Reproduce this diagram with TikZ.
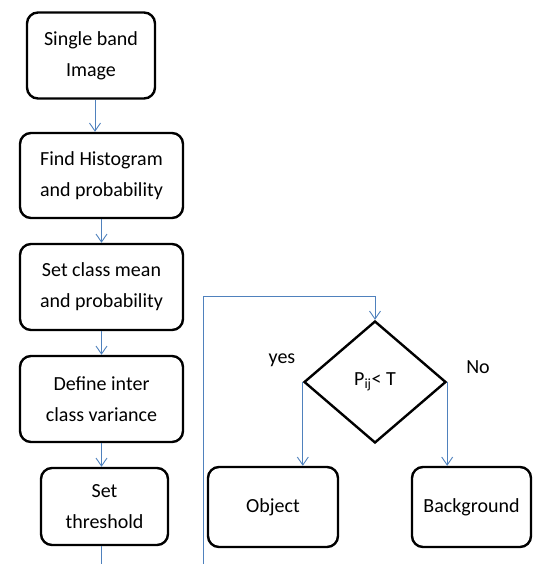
\documentclass[tikz,border=0pt]{standalone}
\usepackage{fontspec}
\setmainfont{Carlito}
\usetikzlibrary{shapes.geometric,arrows.meta}

\definecolor{flowblue}{RGB}{79,129,189}

\begin{document}
\begin{tikzpicture}[
        x=1pt, y=-1pt,
        stepbox/.style={draw, line width=2.4pt, rounded corners=11pt, align=center,
            inner sep=0pt, font=\fontsize{20}{31}\selectfont},
        decision/.style={draw, diamond, line width=2.4pt, inner sep=0pt,
            minimum width=142pt, minimum height=122pt, font=\fontsize{20}{24}\selectfont},
        flow/.style={flowblue, line width=0.9pt, -{Straight Barb[length=8pt,width=11pt]}},
        plainline/.style={flowblue, line width=0.9pt},
        branch/.style={font=\fontsize{20}{24}\selectfont}
    ]
        \useasboundingbox (0,0) rectangle (532,564);

        % main column
        \node[stepbox, minimum width=128pt, minimum height=86pt] (img) at (91,55.5) {Single band\\Image};
        \node[stepbox, minimum width=163pt, minimum height=85pt] (hist) at (101.5,175.5) {Find Histogram\\and probability};
        \node[stepbox, minimum width=163pt, minimum height=86pt] (mean) at (101.5,287) {Set class mean\\and probability};
        \node[stepbox, minimum width=163pt, minimum height=86pt] (var) at (101.5,399) {Define inter\\class variance};
        \node[stepbox, minimum width=127pt, minimum height=77pt] (thr) at (104.5,506.5) {Set\\threshold};

        % decision part
        \node[decision] (dec) at (375,382) {P\textsubscript{ij}< T};
        \node[stepbox, minimum width=130pt, minimum height=80pt] (obj) at (273,507) {Object};
        \node[stepbox, minimum width=119pt, minimum height=80pt] (bg) at (471.5,507) {Background};

        \node[branch] (yes) at (282,360) {yes};
        \node[branch] (no) at (478,367) {No};

        \coordinate (throut) at (101.5,564);
        \coordinate (loopin) at (203,564);
        \coordinate (looptop) at (203,296);

        \draw[flow] ([xshift=4pt]img.south) -- ([xshift=4pt]img.south |- hist.north);
        \draw[flow] (hist) -- (mean);
        \draw[flow] (mean) -- (var);
        \draw[flow] (var.south) -- (var.south |- thr.north);
        \draw[plainline] (throut |- thr.south) -- (throut);

        \draw[flow] (loopin) -- (looptop) -| (dec.north);
        \draw[flow] (dec.west) -- (dec.west |- obj.north);
        \draw[flow] (dec.east) -- (dec.east |- bg.north);
    \end{tikzpicture}
\end{document}
